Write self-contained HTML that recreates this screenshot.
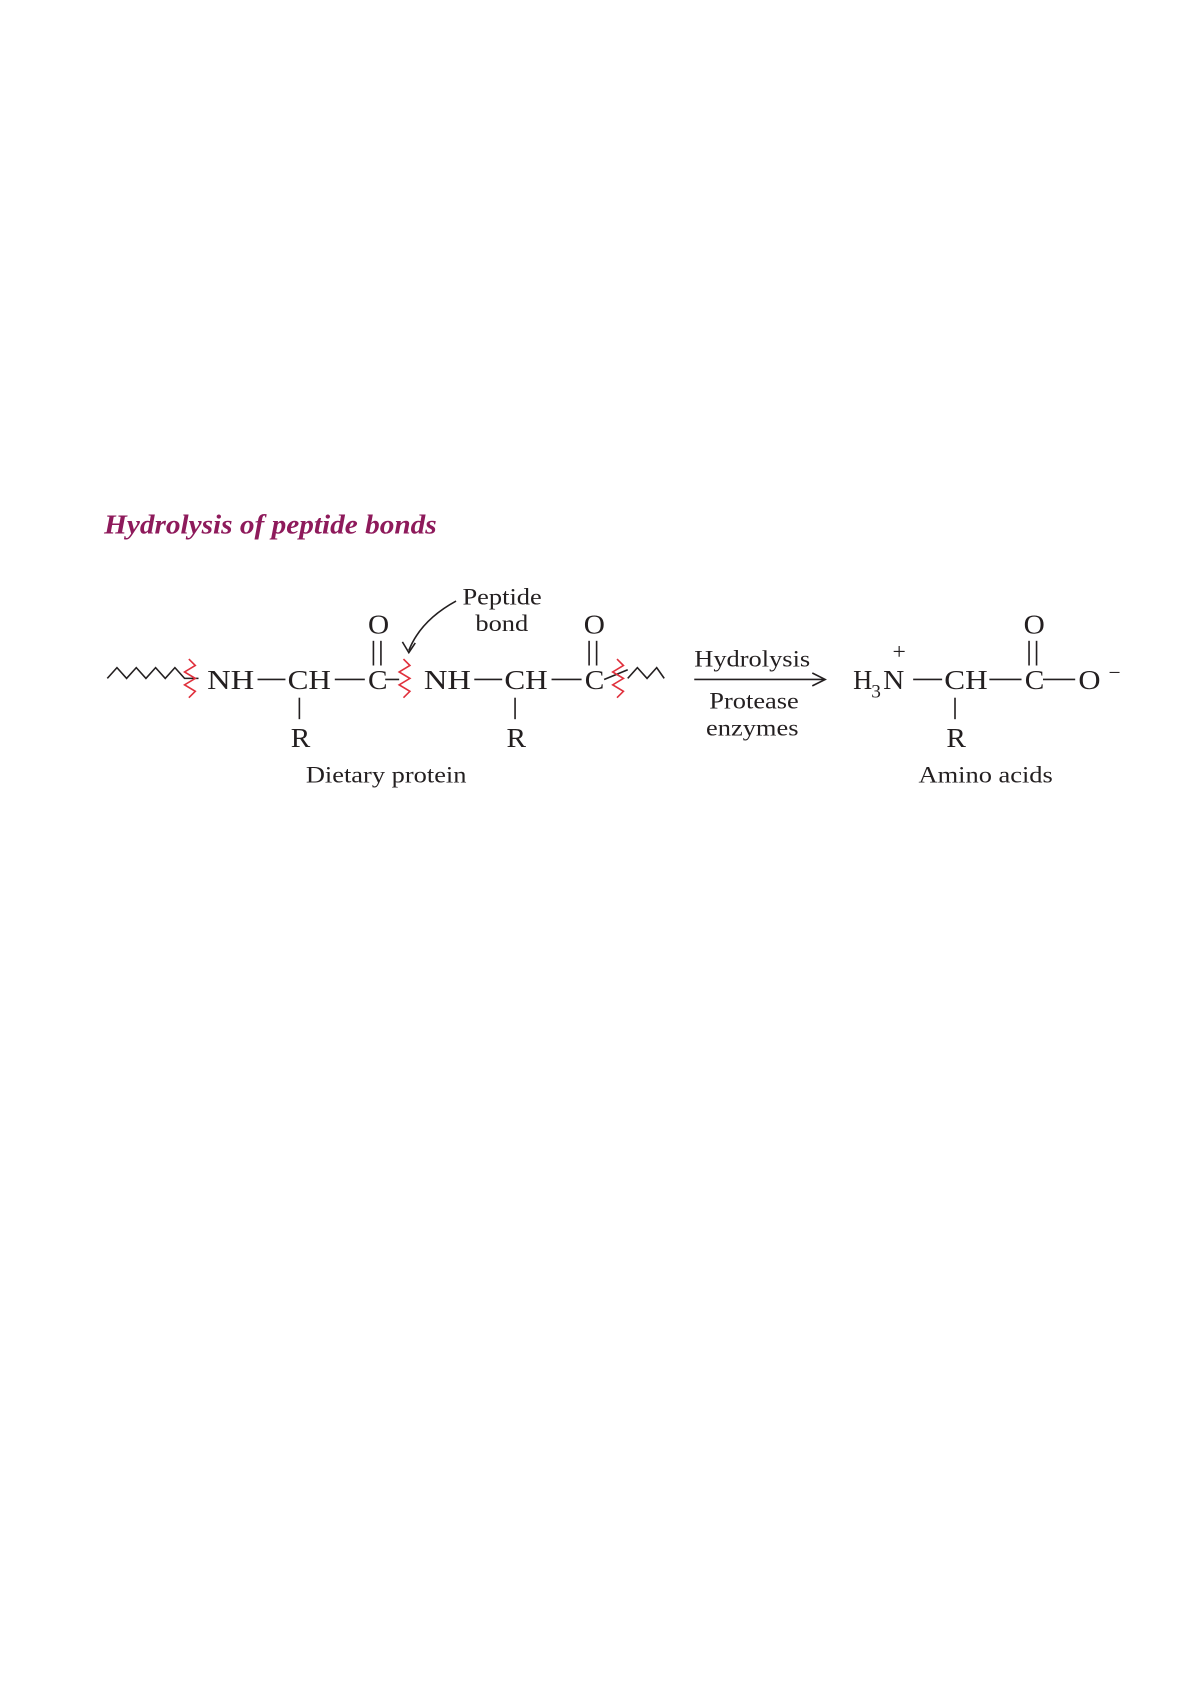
<!DOCTYPE html>
<html><head><meta charset="utf-8"><style>
html,body{margin:0;padding:0;background:#fff;}
svg{display:block;}
text{font-family:"Liberation Serif",serif;fill:#231f20;}
.m{font-size:26px;}
.l{font-size:22px;}
</style></head><body>
<svg width="1190" height="1682" viewBox="0 0 1109 1567" preserveAspectRatio="none" xmlns="http://www.w3.org/2000/svg">
<rect width="1109" height="1567" fill="#fff"/>
<text transform="translate(97 497) scale(1.05 1)" font-size="26" font-weight="bold" font-style="italic" style="fill:#8e1a5b">Hydrolysis of peptide bonds</text>
<g stroke="#231f20" stroke-width="1.5" fill="none">
<polyline points="100,632 109,622 118,632 127,622 136,632 145,622 154,632 163,622 172,632 185,632"/>
<polyline points="585,632 594,622 603,632 612,622 619,632"/>
<line x1="240" y1="633" x2="266" y2="633"/>
<line x1="312" y1="633" x2="340" y2="633"/>
<line x1="442" y1="633" x2="468" y2="633"/>
<line x1="514" y1="633" x2="542" y2="633"/>
<line x1="563" y1="633" x2="585" y2="624"/>
<line x1="348" y1="597" x2="348" y2="620"/><line x1="355" y1="597" x2="355" y2="620"/>
<line x1="549" y1="597" x2="549" y2="620"/><line x1="556" y1="597" x2="556" y2="620"/>
<line x1="279" y1="650" x2="279" y2="670"/><line x1="480" y1="650" x2="480" y2="670"/>
<line x1="359" y1="633" x2="372" y2="633"/>
<path d="M425,560 Q392,578 381,606"/>
<polyline points="375,598 381,608 387,599"/>
<line x1="647" y1="633" x2="768" y2="633"/>
<polyline points="757,627 769,633 757,639"/>
<line x1="851" y1="633" x2="878" y2="633"/>
<line x1="922" y1="633" x2="952" y2="633"/>
<line x1="972" y1="633" x2="1002" y2="633"/>
<line x1="959" y1="597" x2="959" y2="620"/><line x1="966" y1="597" x2="966" y2="620"/>
<line x1="890" y1="650" x2="890" y2="670"/>
</g>
<g stroke="#e0303c" stroke-width="1.5" fill="none">
<polyline points="176,614 182,620 172,626 182,632 172,638 182,644 176,650"/>
<polyline points="376,614 382,620 372,626 382,632 372,638 382,644 376,650"/>
<polyline points="575,614 581,620 571,626 581,632 571,638 581,644 575,650"/>
</g>
<g class="m">
<text class="m" transform="translate(193 642) scale(1.17 1)">NH</text>
<text class="m" transform="translate(268 642) scale(1.12 1)">CH</text>
<text class="m" transform="translate(343 642) scale(1.05 1)">C</text>
<text class="m" transform="translate(395 642) scale(1.17 1)">NH</text>
<text class="m" transform="translate(470 642) scale(1.12 1)">CH</text>
<text class="m" transform="translate(545 642) scale(1.05 1)">C</text>
<text class="m" transform="translate(343 590) scale(1.05 1)">O</text>
<text class="m" transform="translate(544 590) scale(1.05 1)">O</text>
<text class="m" transform="translate(271 696) scale(1.05 1)">R</text>
<text class="m" transform="translate(472 696) scale(1.05 1)">R</text>
<text class="m" transform="translate(795 642) scale(0.95 1)">H</text>
<text x="812" y="650" font-size="18">3</text>
<text class="m" transform="translate(823 642) scale(1.05 1)">N</text>
<text x="838" y="614" text-anchor="middle" font-size="22">+</text>
<text class="m" transform="translate(880 642) scale(1.12 1)">CH</text>
<text class="m" transform="translate(955 642) scale(1.05 1)">C</text>
<text class="m" transform="translate(1005 642) scale(1.1 1)">O</text>
<text x="1033" y="633" font-size="20">−</text>
<text class="m" transform="translate(954 590) scale(1.05 1)">O</text>
<text class="m" transform="translate(882 696) scale(1.05 1)">R</text>
</g>
<g>
<text class="l" transform="translate(431 563) scale(1.12 1)">Peptide</text>
<text class="l" transform="translate(443 588) scale(1.12 1)">bond</text>
<text class="l" transform="translate(285 729) scale(1.12 1)">Dietary protein</text>
<text class="l" transform="translate(647 621) scale(1.12 1)">Hydrolysis</text>
<text class="l" transform="translate(661 660) scale(1.12 1)">Protease</text>
<text class="l" transform="translate(658 685) scale(1.12 1)">enzymes</text>
<text class="l" transform="translate(856 729) scale(1.12 1)">Amino acids</text>
</g>
</svg>
</body></html>
